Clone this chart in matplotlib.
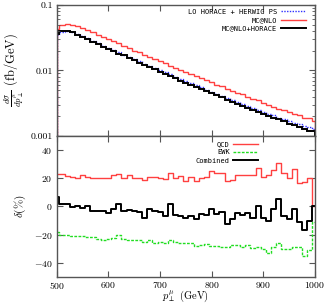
import numpy as np
import matplotlib
matplotlib.use("Agg")
import matplotlib.pyplot as plt

plt.rcParams['font.family'] = 'cmr10'
plt.rcParams['mathtext.fontset'] = 'cm'
plt.rcParams['axes.unicode_minus'] = False
plt.rcParams['axes.formatter.use_mathtext'] = True

# bin centres (GeV)
pt = np.arange(500, 1001, 10)

# upper panel: d sigma / d pT (fb/GeV)
lo_herwig = [0.035, 0.039, 0.040, 0.039, 0.036, 0.033, 0.031, 0.028, 0.026, 0.024,
             0.022, 0.0205, 0.019, 0.0175, 0.016, 0.0148, 0.0137, 0.0127, 0.0118, 0.0109,
             0.0101, 0.0094, 0.0087, 0.0080, 0.0074, 0.0069, 0.0064, 0.0059, 0.0055, 0.0051,
             0.0047, 0.0044, 0.0041, 0.0038, 0.0036, 0.0033, 0.0031, 0.0029, 0.0027, 0.0025,
             0.0023, 0.0022, 0.0021, 0.0019, 0.0018, 0.0017, 0.0016, 0.0015, 0.0014, 0.00135,
             0.0013]
mcnlo = [0.043, 0.050, 0.051, 0.050, 0.047, 0.044, 0.041, 0.038, 0.035, 0.032,
         0.030, 0.028, 0.026, 0.024, 0.022, 0.020, 0.019, 0.0175, 0.016, 0.015,
         0.0138, 0.0128, 0.0119, 0.0110, 0.0102, 0.0095, 0.0088, 0.0082, 0.0076, 0.0071,
         0.0066, 0.0061, 0.0057, 0.0053, 0.0049, 0.0046, 0.0043, 0.0040, 0.0037, 0.0035,
         0.0032, 0.0030, 0.0028, 0.0026, 0.0025, 0.0023, 0.0022, 0.0021, 0.0019, 0.0019,
         0.0017]
mcnlo_horace = [0.036, 0.040, 0.040, 0.038, 0.035, 0.032, 0.030, 0.027, 0.025, 0.023,
                0.021, 0.020, 0.018, 0.017, 0.0155, 0.0142, 0.0132, 0.0122, 0.0112, 0.0104,
                0.0096, 0.0089, 0.0082, 0.0076, 0.0070, 0.0065, 0.0060, 0.0056, 0.0052, 0.0048,
                0.0045, 0.0042, 0.0039, 0.0036, 0.0033, 0.0031, 0.0029, 0.0027, 0.0025, 0.0023,
                0.0022, 0.0020, 0.0019, 0.0018, 0.0017, 0.00155, 0.00145, 0.00138, 0.00128, 0.00120,
                0.00118]

# lower panel: relative corrections delta (%)
qcd = [23, 23, 21.5, 21, 20.5, 22, 21, 20, 20, 20,
       20.5, 22, 23, 20.5, 22.5, 20.5, 20, 19, 21, 21,
       20, 19.5, 24, 20.5, 21.5, 18, 21, 18, 20.5, 21,
       25, 24, 24, 18, 19, 22.5, 22.5, 22, 22, 27.5,
       21, 22.5, 26, 31, 24, 20.5, 26.5, 16.5, 17.5, 20.5,
       0]
ewk = [-18, -20, -20.5, -21, -21, -21, -21.5, -22, -23, -23.5,
       -23, -22.5, -20.5, -23, -24, -24, -23.5, -25, -24, -26,
       -25.5, -26, -24, -25.5, -26, -26, -26, -28, -27, -26.5,
       -28, -28, -29, -28.5, -27.5, -27, -28.5, -27, -29.5, -29,
       -30, -33, -29, -26, -30.5, -30.5, -29, -29, -35, -31,
       -11]
combined = [6.5, 2, 2, -0.5, 0, -1, 0, -3, -3.5, -3,
            -4.5, -2, 2, -3.5, -2.5, -3.5, -4, -8, -1.5, -3,
            -4, -7, 1.5, -6, -6.5, -8.5, -7, -9, -5, -6,
            -2, -5, -4, -12.5, -9, -4.5, -6, -4.5, -8, 0,
            -8, -10, -1.5, 5.5, -7, -9, -1.5, -11, -17, -10,
            0]

red = '#ff4040'
green = '#22dd22'
blue = '#3030ff'
frame = '#555555'

fig = plt.figure(figsize=(3.27, 3.05), dpi=100)
ax1 = fig.add_axes([0.174, 0.554, 0.789, 0.430])
ax2 = fig.add_axes([0.174, 0.092, 0.789, 0.462], sharex=ax1)

edges = np.concatenate([[pt[0]], (pt[:-1] + pt[1:]) / 2, [pt[-1]]])
ax1.stairs(lo_herwig, edges, baseline=1e-4, color=blue, lw=1.0, ls=(0, (1, 1)),
           label='LO HORACE + HERWIG PS')
ax1.stairs(mcnlo, edges, baseline=1e-4, color=red, lw=1.0, label='MC@NLO')
ax1.stairs(mcnlo_horace, edges, baseline=1e-4, color='black', lw=1.4,
           label='MC@NLO+HORACE')
ax1.set_yscale('log')
ax1.set_ylim(0.001, 0.1)
ax1.set_xlim(500, 1000)
ax1.set_yticks([0.001, 0.01, 0.1])
ax1.set_yticklabels(['0.001', '0.01', '0.1'])
ax1.set_ylabel(r'$\frac{d\sigma}{dp_\perp^\mu}$ (fb/GeV)', fontsize=9, labelpad=3)
plt.setp(ax1.get_xticklabels(), visible=False)

ax2.step(pt, qcd, where='mid', color=red, lw=1.0, label='QCD')
ax2.step(pt, ewk, where='mid', color=green, lw=1.0, ls=(0, (2, 1)), label='EWK')
ax2.step(pt, combined, where='mid', color='black', lw=1.4, label='Combined')
ax2.set_ylim(-50, 50)
ax2.set_yticks([-40, -20, 0, 20, 40])
ax2.set_xticks([500, 600, 700, 800, 900, 1000])
ax2.set_ylabel(r'$\delta(\%)$', fontsize=8, labelpad=4)

for ax in (ax1, ax2):
    for s in ax.spines.values():
        s.set_color(frame)
        s.set_linewidth(1.0)
    ax.tick_params(which='both', direction='in', top=True, right=True,
                   labelsize=7, color=frame)
    ax.tick_params(which='major', length=4, pad=3)
    ax.tick_params(which='minor', length=2)
ax2.tick_params(axis='x', pad=2)
ax2.set_xlabel(r'$p_\perp^\mu$ (GeV)', fontsize=7.5, labelpad=-1.5)

ax1.legend(loc='upper right', bbox_to_anchor=(0.965, 0.97), frameon=False,
           markerfirst=False, prop={'family': 'DejaVu Sans Mono', 'size': 5},
           handlelength=3.6, handletextpad=0.5, labelspacing=0.35,
           borderpad=0, borderaxespad=0)
ax2.legend(loc='upper right', bbox_to_anchor=(0.78, 0.965), frameon=False,
           markerfirst=False, prop={'family': 'DejaVu Sans Mono', 'size': 5},
           handlelength=3.6, handletextpad=0.5, labelspacing=0.35,
           borderpad=0, borderaxespad=0)

fig.savefig('out.png', dpi=100)
